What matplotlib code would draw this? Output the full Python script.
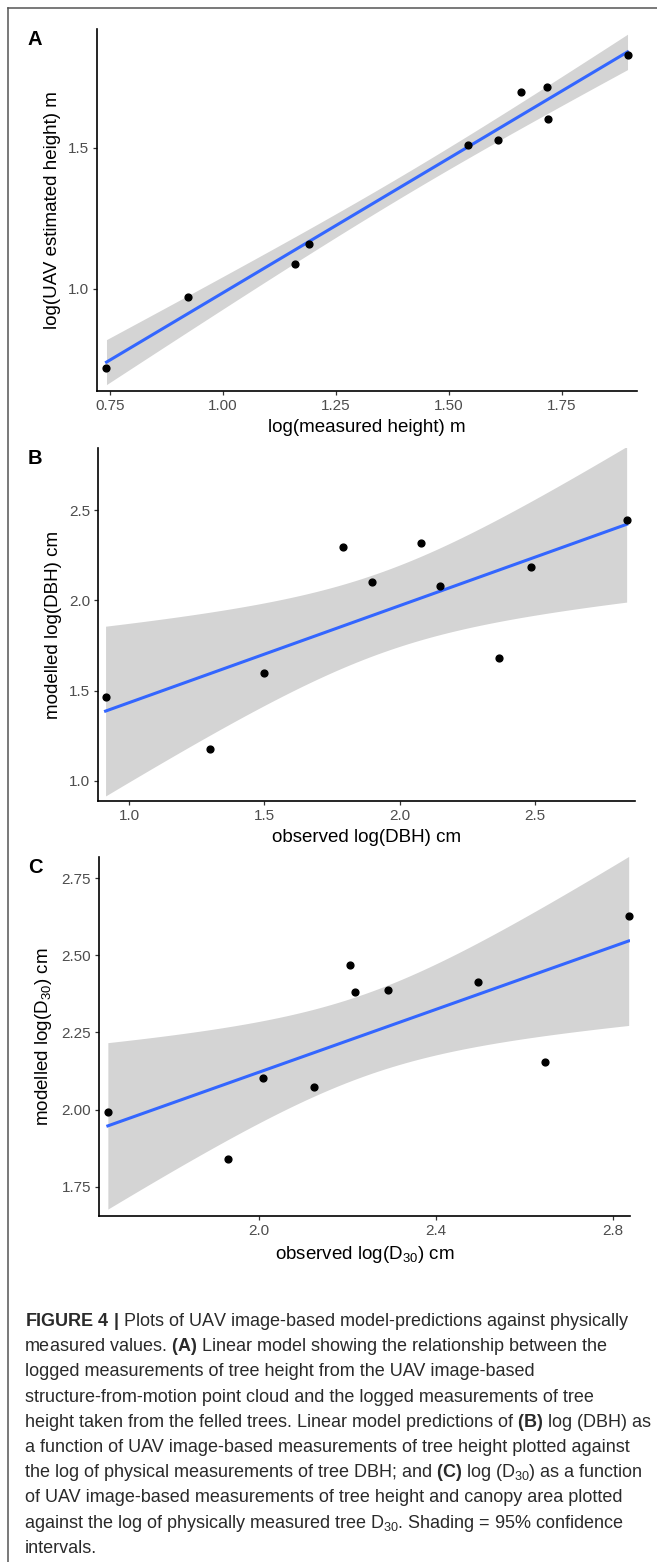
import matplotlib
matplotlib.use('Agg')
import matplotlib.pyplot as plt
from matplotlib.lines import Line2D
import numpy as np

plt.rcParams['font.family'] = ['Liberation Sans', 'DejaVu Sans']
plt.rcParams['mathtext.fontset'] = 'custom'
plt.rcParams['mathtext.rm'] = 'Liberation Sans'
plt.rcParams['mathtext.it'] = 'Liberation Sans:italic'
plt.rcParams['mathtext.bf'] = 'Liberation Sans:bold'

# panel A: measured vs UAV height (log)
a_x = [0.743, 0.923, 1.161, 1.192, 1.543, 1.609, 1.661, 1.717, 1.720, 1.896]
a_y = [0.722, 0.972, 1.090, 1.160, 1.508, 1.528, 1.697, 1.716, 1.602, 1.829]
a_xticks = [0.75, 1.00, 1.25, 1.50, 1.75]
a_xlabels = ['0.75', '1.00', '1.25', '1.50', '1.75']
a_yticks = [1.0, 1.5]
a_ylabels = ['1.0', '1.5']

# panel B: observed vs modelled DBH (log)
b_x = [0.912, 1.298, 1.500, 1.789, 1.899, 2.079, 2.149, 2.368, 2.486, 2.840]
b_y = [1.463, 1.174, 1.596, 2.296, 2.104, 2.317, 2.078, 1.680, 2.187, 2.448]
b_xticks = [1.0, 1.5, 2.0, 2.5]
b_xlabels = ['1.0', '1.5', '2.0', '2.5']
b_yticks = [1.0, 1.5, 2.0, 2.5]
b_ylabels = ['1.0', '1.5', '2.0', '2.5']

# panel C: observed vs modelled D30 (log)
c_x = [1.660, 1.931, 2.010, 2.125, 2.206, 2.217, 2.292, 2.494, 2.646, 2.835]
c_y = [1.993, 1.841, 2.103, 2.073, 2.468, 2.380, 2.387, 2.415, 2.154, 2.626]
c_xticks = [2.0, 2.4, 2.8]
c_xlabels = ['2.0', '2.4', '2.8']
c_yticks = [1.75, 2.00, 2.25, 2.50, 2.75]
c_ylabels = ['1.75', '2.00', '2.25', '2.50', '2.75']

caption = [
    r'$\mathbf{FIGURE\ 4\ |}$ Plots of UAV image-based model-predictions against physically',
    r'measured values. $\mathbf{(A)}$ Linear model showing the relationship between the',
    'logged measurements of tree height from the UAV image-based',
    'structure-from-motion point cloud and the logged measurements of tree',
    r'height taken from the felled trees. Linear model predictions of $\mathbf{(B)}$ log (DBH) as',
    'a function of UAV image-based measurements of tree height plotted against',
    r'the log of physical measurements of tree DBH; and $\mathbf{(C)}$ log (D$_{30}$) as a function',
    'of UAV image-based measurements of tree height and canopy area plotted',
    r'against the log of physically measured tree D$_{30}$. Shading = 95% confidence',
    'intervals.',
]

T_975 = 2.306  # t quantile, df = 8

W, H = 657, 1562
fig = plt.figure(figsize=(W / 100, H / 100), dpi=100)


def rect(l, r, t, b):
    return [l / W, 1 - b / H, (r - l) / W, (b - t) / H]


def panel(box, x, y, xlim, ylim, xt, xtl, yt, ytl, xlab, ylab, letter):
    ax = fig.add_axes(rect(*box))
    x = np.array(x)
    y = np.array(y)
    n = len(x)
    slope, icpt = np.polyfit(x, y, 1)
    res = y - (slope * x + icpt)
    s = np.sqrt(np.sum(res ** 2) / (n - 2))
    xm = x.mean()
    sxx = np.sum((x - xm) ** 2)
    xg = np.linspace(x.min(), x.max(), 80)
    yg = slope * xg + icpt
    se = s * np.sqrt(1 / n + (xg - xm) ** 2 / sxx)
    ax.fill_between(xg, yg - T_975 * se, yg + T_975 * se, color='#d4d4d4', lw=0, zorder=1)
    ax.plot(xg, yg, color='#3366FF', lw=2.2, zorder=2)
    ax.scatter(x, y, s=24, color='black', zorder=3, clip_on=False)
    ax.set_xlim(xlim)
    ax.set_ylim(ylim)
    ax.set_xticks(xt)
    ax.set_xticklabels(xtl)
    ax.set_yticks(yt)
    ax.set_yticklabels(ytl)
    for sp in ['top', 'right']:
        ax.spines[sp].set_visible(False)
    for sp in ['left', 'bottom']:
        ax.spines[sp].set_linewidth(1.2)
    ax.tick_params(length=2.8, width=0.9, color='#333333', labelcolor='#4d4d4d',
                   labelsize=11, pad=3)
    ax.set_xlabel(xlab, fontsize=13.5, color='black', labelpad=4)
    ax.set_ylabel(ylab, fontsize=13.5, color='black', labelpad=5)
    fig.text(28 / W, 1 - box[2] / H - 1 / H, letter, fontsize=14.5, fontweight='bold',
             ha='left', va='top')
    return ax


panel((97, 637, 29, 391), a_x, a_y, (0.722, 1.917), (0.639, 1.92),
      a_xticks, a_xlabels, a_yticks, a_ylabels,
      'log(measured height) m', 'log(UAV estimated height) m', 'A')
panel((98, 635, 448, 801), b_x, b_y, (0.884, 2.871), (0.887, 2.846),
      b_xticks, b_xlabels, b_yticks, b_ylabels,
      'observed log(DBH) cm', 'modelled log(DBH) cm', 'B')
panel((99, 630, 857, 1216), c_x, c_y, (1.640, 2.838), (1.656, 2.818),
      c_xticks, c_xlabels, c_yticks, c_ylabels,
      'observed log(D$_{30}$) cm', 'modelled log(D$_{30}$) cm', 'C')

# caption (mathtext lines get a small left shift so margins line up)
for i, line in enumerate(caption):
    dx = -1.2 if ('$' in line and not line.startswith('$')) else 0
    fig.text((25 + dx) / W, 1 - (1326 + 25.2 * i) / H, line, fontsize=13, color='#2a2a2a',
             ha='left', va='baseline')

# outer frame, left and top edges only
fig.add_artist(Line2D([7.5 / W, 7.5 / W], [0, 1 - 8 / H], color='#555555', lw=1.1))
fig.add_artist(Line2D([7.5 / W, 1], [1 - 8 / H, 1 - 8 / H], color='#555555', lw=1.1))

fig.savefig('out.png', dpi=100)
